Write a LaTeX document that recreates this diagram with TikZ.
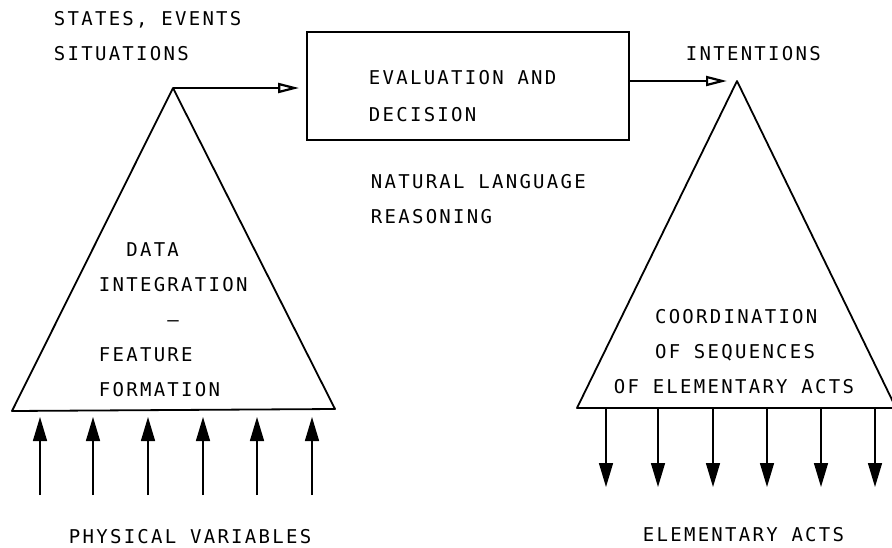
\documentclass[tikz,border=0pt]{standalone}
\usepackage{fontspec}
\newfontfamily\typefont[LetterSpace=12]{DejaVu Sans Mono}
\usetikzlibrary{arrows.meta}

\begin{document}
\begin{tikzpicture}[x=1pt, y=-1pt, line width=1.8pt,
		text node/.style={inner sep=0pt, anchor=north west, align=left,
			font=\typefont\fontsize{19}{35}\selectfont},
		main box/.style={draw, inner sep=0pt, minimum width=322pt, minimum height=108pt},
		flow/.style={line width=1.4pt, -{Triangle[open, length=21pt, width=10pt, line width=2.2pt]}},
		var arrow/.style={line width=1.5pt, -{Triangle[length=24pt, width=14pt]}}]
		
		\useasboundingbox (0,0) rectangle (892,547);
		
		% triangles
		\coordinate (lt) at (173,88);
		\coordinate (lb1) at (12,411);
		\coordinate (lb2) at (335,409);
		\coordinate (rt) at (737,81);
		\coordinate (rb1) at (577,408);
		\coordinate (rb2) at (896,408);
		\draw[line join=round] (lb1) -- (lt) -- (lb2) -- cycle;
		\draw[line join=round] (rb1) -- (rt) -- (rb2) -- cycle;
		
		\node[main box] (box) at (468,86) {};
		
		\path (lt) edge[flow, shorten >=7pt] (lt -| box.west)
		(box.east |- rt) edge[flow, shorten >=10pt] (rt);
		
		% inputs and outputs
		\foreach \x [count=\i] in {40,93,148,203,257,312} {
			\coordinate (in\i) at (\x,495);
			\draw[var arrow, shorten >=6pt] (in\i) -- (in\i |- lb1);
		}
		\foreach \x [count=\i] in {606,658,713,767,821,875} {
			\coordinate (out\i) at (\x,487);
			\draw[var arrow] (out\i |- rb1) -- (out\i);
		}
		
		\node[text node] (states) at (53,10) {STATES, EVENTS\\SITUATIONS};
		\node[text node] (eval) at (368,69) {EVALUATION AND\\[2pt]DECISION};
		\node[text node] (reason) at (370,173) {NATURAL LANGUAGE\\REASONING};
		\node[text node] (intent) at (685,45) {INTENTIONS};
		\node[text node] (integ) at (98,242) {~~DATA\\INTEGRATION\\~~~~~–\\FEATURE\\FORMATION};
		\node[text node] (coord) at (613,308) {~~~COORDINATION\\~~~OF SEQUENCES\\OF ELEMENTARY ACTS};
		\node[text node] (phys) at (68,528) {PHYSICAL VARIABLES};
		\node[text node] (acts) at (642,526) {ELEMENTARY ACTS};
\end{tikzpicture}
\end{document}
